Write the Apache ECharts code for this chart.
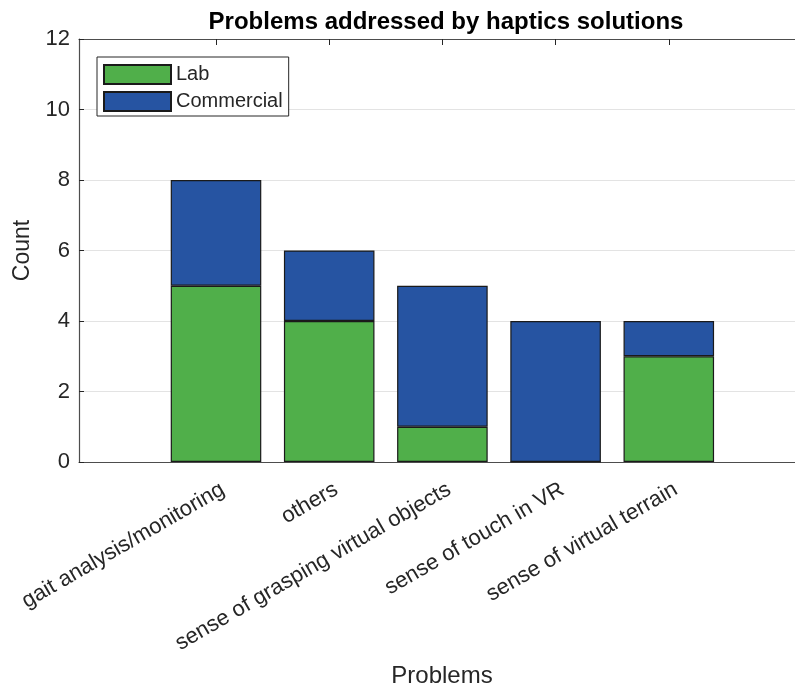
<!DOCTYPE html>
<html>
<head>
<meta charset="utf-8">
<script src="https://cdn.jsdelivr.net/npm/echarts@6/dist/echarts.min.js"></script>
<style>html,body{margin:0;padding:0;background:#fff}#c{width:795px;height:689px}</style>
</head>
<body>
<div id="c"></div>
<script>
const categories = ['gait analysis/monitoring', 'others', 'sense of grasping virtual objects', 'sense of touch in VR', 'sense of virtual terrain'];
const labCounts = [5, 4, 1, 0, 3];
const commercialCounts = [3, 2, 4, 4, 1];
const yTicks = [0, 2, 4, 6, 8, 10, 12];

const FONT = '"Liberation Sans", Arial, Helvetica, sans-serif';
const chart = echarts.init(document.getElementById('c'), null, {renderer: 'canvas'});
const axisCol = '#4d4d4d';
const txt = '#262626';

chart.setOption({
  animation: false,
  backgroundColor: '#ffffff',
  title: {
    text: 'Problems addressed by haptics solutions',
    left: 441, top: 5, textAlign: 'center',
    textStyle: {fontFamily: FONT, fontSize: 24, fontWeight: 'bold', color: '#000'}
  },
  legend: {
    left: 97, top: 57, orient: 'vertical',
    itemWidth: 67, itemHeight: 19, itemGap: 6,
    padding: [7, 6, 4, 6],
    icon: 'rect',
    borderColor: '#262626', borderWidth: 1, backgroundColor: '#fff',
    textStyle: {fontFamily: FONT, fontSize: 20, color: txt},
    data: ['Lab', 'Commercial']
  },
  grid: [
    {left: 79, right: 0, top: 39, bottom: 227, containLabel: false, outerBoundsMode: 'none'},
    {left: 159.4, width: 566, top: 39, bottom: 227, containLabel: false, outerBoundsMode: 'none'}
  ],
  xAxis: [{
    gridIndex: 0, type: 'value', min: 0, max: 1, position: 'bottom',
    name: 'Problems', nameLocation: 'middle', nameGap: 202,
    nameTextStyle: {fontFamily: FONT, fontSize: 24, color: txt, padding: [0, 0, 0, 10]},
    axisLine: {show: true, onZero: false, lineStyle: {color: axisCol, width: 1.2}},
    axisTick: {show: false}, axisLabel: {show: false}, splitLine: {show: false}
  }, {
    gridIndex: 0, type: 'value', min: 0, max: 1, position: 'top',
    axisLine: {show: true, onZero: false, lineStyle: {color: axisCol, width: 1.2}},
    axisTick: {show: false}, axisLabel: {show: false}, splitLine: {show: false}
  }, {
    gridIndex: 1, type: 'category', data: categories, position: 'bottom',
    axisLine: {show: false},
    axisTick: {show: true, inside: true, length: 6, interval: 0, alignWithLabel: true, lineStyle: {color: txt}},
    axisLabel: {rotate: 30, margin: 30, interval: 0, fontFamily: FONT, fontSize: 22, color: txt,
      padding: [0, -8, 0, 0]},
    splitLine: {show: false}
  }, {
    gridIndex: 1, type: 'category', data: categories, position: 'top',
    axisLine: {show: false},
    axisTick: {show: true, inside: true, length: 6, interval: 0, alignWithLabel: true, lineStyle: {color: txt}},
    axisLabel: {show: false}, splitLine: {show: false}
  }],
  yAxis: [{
    gridIndex: 0, type: 'value', min: 0, max: 12, interval: 2,
    name: 'Count', nameLocation: 'middle', nameGap: 43, nameRotate: 90,
    nameTextStyle: {fontFamily: FONT, fontSize: 23, color: txt},
    axisLine: {show: true, onZero: false, lineStyle: {color: axisCol, width: 1.2}},
    axisTick: {show: true, inside: true, length: 5, lineStyle: {color: txt}},
    axisLabel: {fontFamily: FONT, fontSize: 22, color: txt, margin: 9,
      formatter: v => yTicks.includes(v) ? String(v) : ''},
    splitLine: {show: true, lineStyle: {color: '#e3e3e3', width: 1}}
  }, {
    gridIndex: 1, type: 'value', min: 0, max: 12, interval: 2, show: false,
    splitLine: {show: false}
  }],
  series: [{
    name: 'Lab', type: 'bar', stack: 'total', barWidth: '80%',
    xAxisIndex: 2, yAxisIndex: 1,
    itemStyle: {color: '#50AF4A', borderColor: '#1a1a1a', borderWidth: 1.2},
    data: labCounts
  }, {
    name: 'Commercial', type: 'bar', stack: 'total', barWidth: '80%',
    xAxisIndex: 2, yAxisIndex: 1,
    itemStyle: {color: '#2654A2', borderColor: '#1a1a1a', borderWidth: 1.2},
    data: commercialCounts
  }]
});
</script>
</body>
</html>
